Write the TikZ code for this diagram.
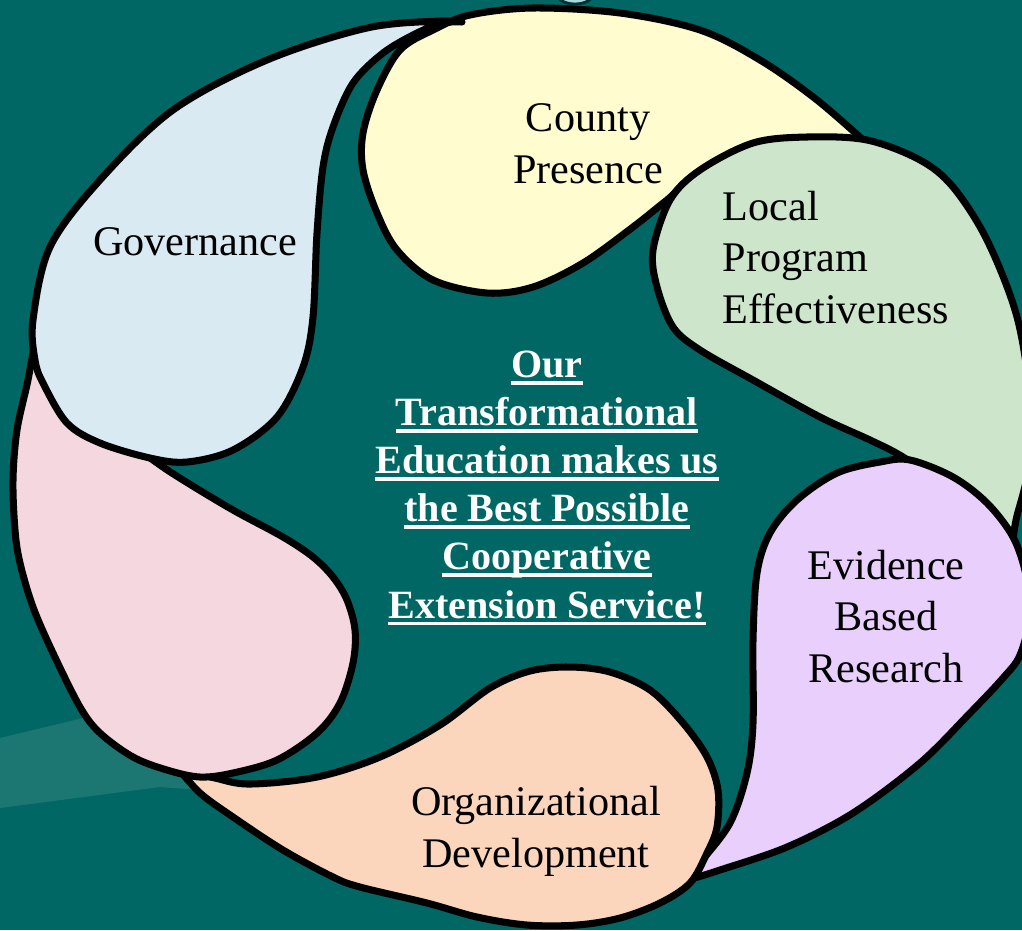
\documentclass[tikz,border=0pt]{standalone}
\usepackage{fontspec}
\setmainfont{Liberation Serif}

\definecolor{bgteal}{RGB}{0,103,100}
\definecolor{bgband}{RGB}{28,118,114}
\definecolor{topcyan}{RGB}{170,215,222}
\definecolor{cyellow}{RGB}{255,252,208}
\definecolor{cgreen}{RGB}{205,229,203}
\definecolor{clilac}{RGB}{232,207,252}
\definecolor{cpeach}{RGB}{251,214,188}
\definecolor{cpink}{RGB}{245,215,224}
\definecolor{cblue}{RGB}{218,234,243}

\newcommand\ulbold[1]{\setbox0\hbox{#1}\rlap{\copy0}\rule[-2pt]{\wd0}{1pt}}

\begin{document}
\begin{tikzpicture}[x=0.01cm,y=-0.01cm,
  drop/.style={draw=black,line width=2pt,line join=round},
  lbl/.style={font=\fontsize{12}{14.6}\selectfont,inner sep=0pt,align=center},
  motto/.style={font=\fontsize{11.4}{13.66}\selectfont\bfseries,text=white,inner sep=0pt,align=center}]

\useasboundingbox (0,0) rectangle (1022,930);
\clip (0,0) rectangle (1022,930);
\fill[bgteal] (0,0) rectangle (1022,930);
\fill[bgband] (0,738) -- (83,718) -- (170,712) -- (200,790) -- (160,787) -- (0,808) -- cycle;
\filldraw[fill=topcyan,draw=black!50!bgteal,line width=0.8pt] (575,-6) ellipse (18 and 10);

% County Presence
\filldraw[drop,fill=cyellow] plot[smooth,tension=0.55] coordinates {
 (872,148) (817,100) (760,60) (700,30) (620,13) (533,8) (470,15) (433,30) (400,50)
 (377,90) (363,133) (363,170) (377,213) (397,250) (433,280) (487,293) (533,287)
 (583,263) (633,227) (667,200) (700,175) (790,155) (872,148)} -- cycle;

% Local Program Effectiveness
\filldraw[drop,fill=cgreen] plot[smooth,tension=0.55] coordinates {
 (1012,548) (960,495) (903,457) (870,440) (820,417) (753,380) (700,350) (673,327)
 (657,287) (653,250) (670,200) (700,170) (753,143) (807,137) (867,140) (920,160)
 (953,187) (987,240) (1017,317) (1030,400) (1028,470) (1016,520) (1012,548)} -- cycle;

% Evidence Based Research
\filldraw[drop,fill=clilac] plot[smooth,tension=0.55] coordinates {
 (688,880) (700,863) (730,823) (747,773) (753,723) (753,640) (757,573) (770,533)
 (797,500) (837,473) (880,462) (910,460) (953,477) (987,503) (1013,537) (1026,575)
 (1030,615) (1020,655) (1003,678) (970,713) (920,763) (853,813) (787,847)
 (720,870) (688,880)} -- cycle;

% Organizational Development
\filldraw[drop,fill=cpeach] plot[smooth,tension=0.55] coordinates {
 (178,768) (200,793) (233,817) (283,850) (333,877) (360,887) (427,903) (477,917)
 (527,925) (577,925) (620,918) (660,903) (690,883) (707,853) (717,827) (718,790)
 (707,757) (683,723) (650,690) (610,672) (570,667) (530,671) (490,688) (440,725)
 (380,757) (317,777) (250,784) (215,778) (178,768)} -- cycle;

% empty pink drop
\filldraw[drop,fill=cpink] plot[smooth,tension=0.55] coordinates {
 (35,340) (28,380) (17,430) (13,480) (15,530) (20,563) (33,607) (53,653) (80,707)
 (100,733) (133,757) (167,770) (200,777) (233,773) (277,760) (317,733) (340,703)
 (353,663) (355,630) (347,600) (333,577) (313,557) (283,537) (233,510) (183,480)
 (153,460) (100,420) (60,380) (35,340)} -- cycle;

% Governance
\filldraw[drop,fill=cblue] plot[smooth,tension=0.55] coordinates {
 (462,22) (440,21) (367,28) (267,60) (173,110) (100,180) (50,247) (33,320) (35,360)
 (43,383) (67,423) (100,443) (150,458) (187,462) (233,450) (277,417) (303,367)
 (313,317) (317,233) (323,167) (333,127) (353,83) (383,53) (417,33) (443,23)
 (462,22)} -- cycle;

\node[lbl,anchor=base] (county) at (588,183) {County\\Presence};
\node[lbl,align=left,anchor=base west] (local) at (722,323) {Local\\Program\\Effectiveness};
\node[lbl,anchor=base] (evidence) at (886,682) {Evidence\\Based\\Research};
\node[lbl,anchor=base] (orgdev) at (536,867) {Organizational\\Development};
\node[lbl,anchor=base] (gov) at (195,255) {Governance};

\node[motto,anchor=base] (ourtext) at (547,618) {\ulbold{Our}\\\ulbold{Transformational}\\
 \ulbold{Education makes us}\\\ulbold{the Best Possible}\\\ulbold{Cooperative}\\
 \ulbold{Extension Service!}};

\end{tikzpicture}
\end{document}
